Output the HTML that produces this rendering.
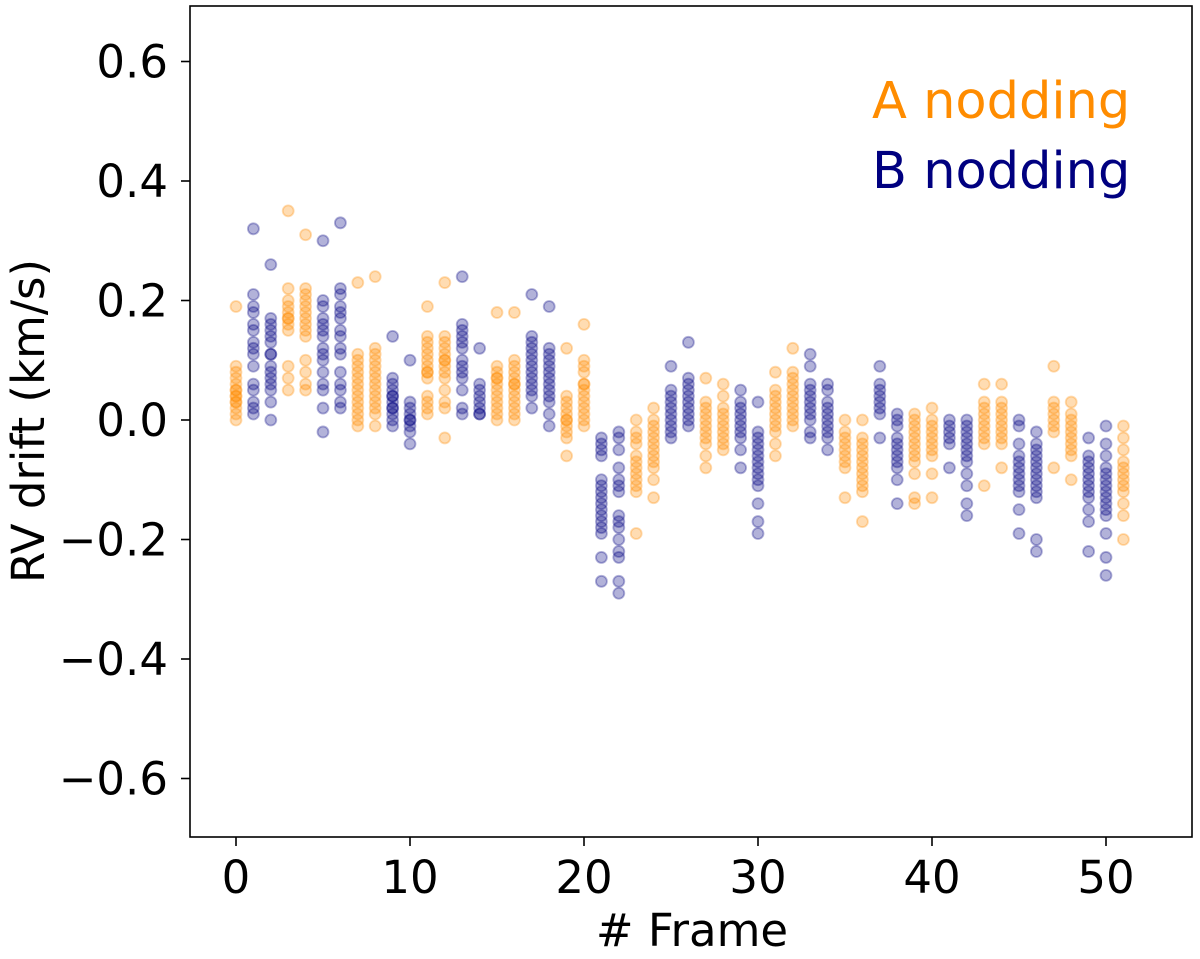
<!DOCTYPE html>
<html><head><meta charset="utf-8"><style>
body{margin:0;background:#fff;}
svg text{font-family:"DejaVu Sans","Liberation Sans",sans-serif;}
</style></head><body>
<svg width="1200" height="954" xmlns="http://www.w3.org/2000/svg">
<rect x="190" y="6" width="1002" height="831" fill="#fff" stroke="#000" stroke-width="1.6"/>
<g id="xt"></g><g id="yt"></g><g id="pts"></g>
<text x="692" y="946" font-size="45" text-anchor="middle"># Frame</text>
<text transform="translate(44,421) rotate(-90)" font-size="45" text-anchor="middle">RV drift (km/s)</text>
<text x="872" y="118" font-size="51" fill="#ff8c00">A nodding</text>
<text x="872" y="188" font-size="51" fill="#000080">B nodding</text>
</svg>
<script>
const xTicks=[0,10,20,30,40,50];
const yTicks=[0.6,0.4,0.2,0.0,-0.2,-0.4,-0.6];
const yTickLabels=["0.6","0.4","0.2","0.0","\u22120.2","\u22120.4","\u22120.6"];
const nodding="ABBAABBAABBAABBAABBAABBAABBAABBAABBAABBAABBAABBAABBA";
const frameValues=[
[0.19,0.09,0.08,0.07,0.06,0.05,0.05,0.04,0.04,0.03,0.03,0.02,0.01,0.0],
[0.32,0.21,0.19,0.18,0.16,0.15,0.13,0.12,0.11,0.09,0.06,0.05,0.03,0.02,0.01],
[0.26,0.17,0.16,0.15,0.14,0.13,0.11,0.11,0.09,0.08,0.07,0.06,0.05,0.03,0.0],
[0.35,0.22,0.2,0.19,0.18,0.17,0.17,0.16,0.15,0.09,0.07,0.05],
[0.31,0.22,0.21,0.2,0.19,0.18,0.17,0.16,0.15,0.14,0.1,0.08,0.06,0.05],
[0.3,0.2,0.19,0.17,0.16,0.15,0.14,0.12,0.11,0.1,0.08,0.06,0.05,0.02,-0.02],
[0.33,0.22,0.21,0.19,0.18,0.17,0.15,0.14,0.12,0.11,0.08,0.06,0.05,0.03,0.02],
[0.23,0.11,0.1,0.09,0.08,0.07,0.06,0.05,0.04,0.03,0.02,0.01,0.0,-0.01],
[0.24,0.12,0.11,0.1,0.09,0.08,0.07,0.06,0.05,0.04,0.03,0.02,0.01,-0.01],
[0.14,0.07,0.06,0.05,0.04,0.04,0.03,0.02,0.02,0.01,0.0,-0.01],
[0.1,0.03,0.02,0.01,0.0,0.0,-0.01,-0.02,-0.04],
[0.19,0.14,0.13,0.12,0.11,0.1,0.09,0.08,0.08,0.07,0.04,0.03,0.02,0.01],
[0.23,0.14,0.13,0.12,0.11,0.1,0.1,0.09,0.08,0.07,0.05,0.03,0.02,-0.03],
[0.24,0.16,0.15,0.14,0.13,0.12,0.1,0.09,0.08,0.07,0.05,0.02,0.01],
[0.12,0.06,0.05,0.04,0.03,0.02,0.01,0.01],
[0.18,0.09,0.08,0.07,0.07,0.06,0.05,0.04,0.03,0.02,0.01,0.0],
[0.18,0.1,0.09,0.08,0.07,0.06,0.06,0.05,0.04,0.03,0.02,0.01,0.0],
[0.21,0.14,0.13,0.12,0.11,0.1,0.09,0.08,0.07,0.06,0.05,0.04,0.02],
[0.19,0.12,0.11,0.1,0.09,0.08,0.07,0.06,0.05,0.04,0.03,0.01,-0.01],
[0.12,0.04,0.03,0.02,0.01,0.0,0.0,-0.01,-0.02,-0.03,-0.06],
[0.16,0.1,0.09,0.08,0.06,0.06,0.05,0.04,0.03,0.02,0.01,0.0,-0.01],
[-0.03,-0.04,-0.05,-0.06,-0.1,-0.11,-0.12,-0.13,-0.14,-0.15,-0.16,-0.17,-0.18,-0.19,-0.23,-0.27],
[-0.02,-0.03,-0.05,-0.08,-0.1,-0.11,-0.12,-0.16,-0.17,-0.18,-0.2,-0.22,-0.23,-0.27,-0.29],
[0.0,-0.02,-0.03,-0.04,-0.06,-0.07,-0.08,-0.09,-0.1,-0.11,-0.12,-0.19],
[0.02,0.0,-0.01,-0.02,-0.03,-0.04,-0.05,-0.06,-0.07,-0.08,-0.1,-0.13],
[0.09,0.05,0.04,0.03,0.02,0.01,0.0,-0.01,-0.02,-0.03],
[0.13,0.07,0.06,0.05,0.04,0.03,0.02,0.01,0.0,-0.01],
[0.07,0.03,0.02,0.01,0.0,-0.01,-0.02,-0.03,-0.04,-0.06,-0.08],
[0.06,0.04,0.02,0.01,0.0,-0.01,-0.02,-0.03,-0.04,-0.05],
[0.05,0.03,0.02,0.01,0.0,-0.01,-0.02,-0.03,-0.05,-0.08],
[0.03,-0.02,-0.03,-0.04,-0.05,-0.06,-0.07,-0.08,-0.09,-0.1,-0.11,-0.14,-0.17,-0.19],
[0.08,0.05,0.04,0.03,0.02,0.01,0.0,-0.01,-0.02,-0.04,-0.06],
[0.12,0.08,0.07,0.06,0.05,0.04,0.03,0.02,0.01,0.0,-0.01],
[0.11,0.09,0.06,0.05,0.04,0.03,0.02,0.01,0.0,-0.02,-0.03],
[0.06,0.05,0.03,0.02,0.01,0.0,-0.01,-0.02,-0.03,-0.05],
[0.0,-0.02,-0.03,-0.04,-0.05,-0.06,-0.07,-0.08,-0.13],
[0.0,-0.03,-0.04,-0.05,-0.06,-0.07,-0.08,-0.09,-0.1,-0.11,-0.12,-0.17],
[0.09,0.06,0.05,0.04,0.03,0.02,0.01,-0.03],
[0.01,0.0,-0.01,-0.03,-0.04,-0.05,-0.06,-0.07,-0.08,-0.1,-0.14],
[0.01,0.0,-0.01,-0.02,-0.03,-0.04,-0.05,-0.06,-0.07,-0.09,-0.13,-0.14],
[0.02,0.0,-0.01,-0.02,-0.03,-0.04,-0.05,-0.06,-0.09,-0.13],
[0.0,-0.01,-0.02,-0.03,-0.04,-0.08],
[0.0,-0.01,-0.02,-0.03,-0.04,-0.05,-0.06,-0.07,-0.09,-0.11,-0.14,-0.16],
[0.06,0.03,0.02,0.01,0.0,-0.01,-0.02,-0.03,-0.04,-0.11],
[0.06,0.03,0.02,0.01,0.0,-0.01,-0.02,-0.03,-0.04,-0.08],
[0.0,-0.01,-0.04,-0.06,-0.07,-0.08,-0.09,-0.1,-0.11,-0.12,-0.15,-0.19],
[-0.02,-0.04,-0.05,-0.06,-0.07,-0.08,-0.09,-0.1,-0.11,-0.12,-0.13,-0.2,-0.22],
[0.09,0.03,0.02,0.01,0.0,-0.01,-0.02,-0.08],
[0.03,0.01,0.0,-0.01,-0.02,-0.03,-0.04,-0.05,-0.06,-0.1],
[-0.03,-0.06,-0.07,-0.08,-0.09,-0.1,-0.11,-0.12,-0.13,-0.15,-0.17,-0.22],
[-0.01,-0.04,-0.06,-0.08,-0.09,-0.1,-0.11,-0.12,-0.13,-0.14,-0.15,-0.16,-0.19,-0.23,-0.26],
[-0.01,-0.03,-0.05,-0.07,-0.08,-0.09,-0.1,-0.11,-0.12,-0.14,-0.16,-0.2]
];
const NS="http://www.w3.org/2000/svg";
const xs=v=>236+v*17.4;
const ys=v=>420-v*597.5;
function mk(t,a){const e=document.createElementNS(NS,t);for(const k in a)e.setAttribute(k,a[k]);return e;}
const xt=document.getElementById('xt'),yt=document.getElementById('yt'),pts=document.getElementById('pts');
xTicks.forEach(v=>{
 const l=mk('line',{x1:xs(v),x2:xs(v),y1:837,y2:846,stroke:'#000','stroke-width':1.6});
 
 
 xt.appendChild(l);
 const t=mk('text',{x:xs(v),y:893,'font-size':45,'text-anchor':'middle'});t.textContent=String(v);
 
 
 xt.appendChild(t);
});
yTicks.forEach((v,i)=>{
 const l=mk('line',{x1:181,x2:190,y1:ys(v),y2:ys(v),stroke:'#000','stroke-width':1.6});
 
 
 yt.appendChild(l);
 const t=mk('text',{x:168,y:ys(v)+16,'font-size':45,'text-anchor':'end'});t.textContent=yTickLabels[i];
 
 
 yt.appendChild(t);
});
frameValues.forEach((vals,f)=>{
 const col=nodding[f]==='A'?'#ff8c00':'#000080';
 vals.forEach(v=>{
  const c=mk('circle',{cx:xs(f),cy:ys(v),r:5.5,fill:col,'fill-opacity':0.3,stroke:col,'stroke-opacity':0.3,'stroke-width':1.8});
  
  
  pts.appendChild(c);
 });
});
</script>
</body></html>
